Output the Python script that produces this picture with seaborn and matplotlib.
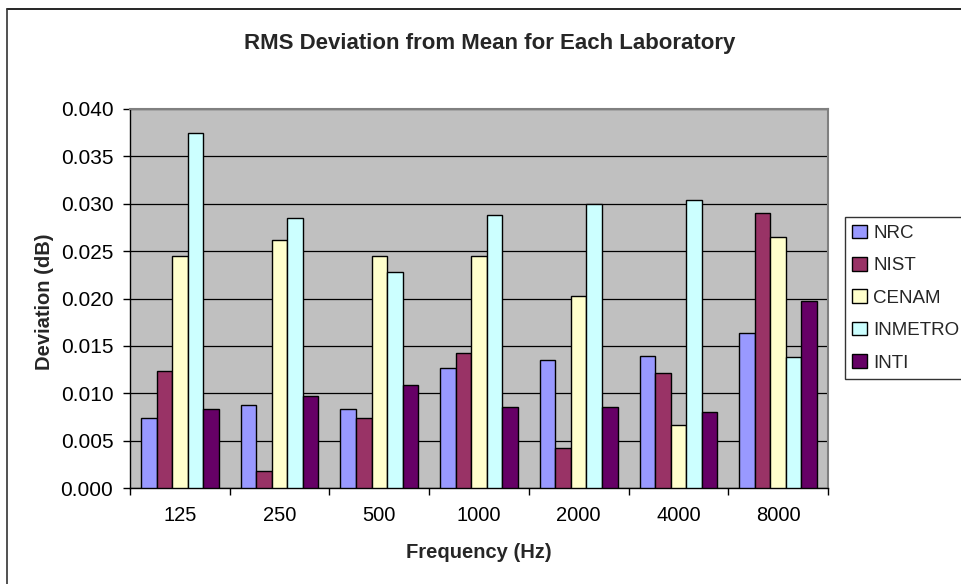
import matplotlib
matplotlib.use("Agg")
import matplotlib.pyplot as plt
import matplotlib.patches as mpatches
from matplotlib.lines import Line2D
from matplotlib.ticker import MultipleLocator, FixedLocator, FormatStrFormatter
import seaborn as sns
import pandas as pd

frequencies = ["125", "250", "500", "1000", "2000", "4000", "8000"]
labs = ["NRC", "NIST", "CENAM", "INMETRO", "INTI"]
nrc = [0.0074, 0.0088, 0.0083, 0.0127, 0.0135, 0.0139, 0.0164]
nist = [0.0124, 0.0018, 0.0074, 0.0142, 0.0042, 0.0121, 0.0290]
cenam = [0.0245, 0.0262, 0.0245, 0.0245, 0.0203, 0.0066, 0.0265]
inmetro = [0.0375, 0.0285, 0.0228, 0.0288, 0.0300, 0.0304, 0.0138]
inti = [0.0083, 0.0097, 0.0109, 0.0085, 0.0086, 0.0080, 0.0197]
colors = ["#9999FF", "#993366", "#FFFFCC", "#CCFFFF", "#660066"]

series = {"NRC": nrc, "NIST": nist, "CENAM": cenam, "INMETRO": inmetro, "INTI": inti}
rows = []
for lab in labs:
    for f, v in zip(frequencies, series[lab]):
        rows.append({"Frequency": f, "Lab": lab, "Deviation": v})
df = pd.DataFrame(rows)

sns.set_theme(style="white")
plt.rcParams["font.family"] = ["Liberation Sans", "DejaVu Sans"]

W, H = 962, 584
fig = plt.figure(figsize=(W / 100, H / 100), dpi=100)
ax = fig.add_axes([130 / W, 1 - 488 / H, (828 - 130) / W, (488 - 109) / H])
ax.set_facecolor("#C0C0C0")

sns.barplot(data=df, x="Frequency", y="Deviation", hue="Lab", order=frequencies,
            hue_order=labs, palette=colors, width=0.78, gap=0,
            edgecolor="black", linewidth=1.0, saturation=1, ax=ax, legend=False,
            zorder=3)

ax.set_ylim(0, 0.040)
ax.set_xlim(-0.5, len(frequencies) - 0.5)
ax.yaxis.set_major_locator(MultipleLocator(0.005))
ax.yaxis.set_major_formatter(FormatStrFormatter("%.3f"))
ax.grid(axis="y", color="black", linewidth=0.9, zorder=1)
ax.set_axisbelow(True)

# category separators as tick marks below the axis
ax.xaxis.set_minor_locator(FixedLocator([i - 0.5 for i in range(len(frequencies) + 1)]))
ax.tick_params(axis="x", which="major", length=0, pad=13, labelsize=14.5, colors="black")
ax.tick_params(axis="x", which="minor", length=5, width=1, direction="out", color="black", bottom=True)
ax.tick_params(axis="y", which="major", length=5, width=1, direction="out", left=True,
               labelsize=15, colors="black", pad=7)

for side in ["left", "bottom"]:
    ax.spines[side].set_color("black")
    ax.spines[side].set_linewidth(1.0)
for side in ["top", "right"]:
    ax.spines[side].set_color("#808080")
    ax.spines[side].set_linewidth(1.5)

ax.set_xlabel("")
ax.set_ylabel("")
fig.text(479 / W, 1 - 552 / H, "Frequency (Hz)", ha="center", va="center",
         fontsize=14.5, fontweight="bold")
fig.text(45 / W, 1 - 302 / H, "Deviation (dB)", ha="center", va="center",
         rotation=90, fontsize=14.5, fontweight="bold")
fig.text(490 / W, 1 - 43 / H, "RMS Deviation from Mean for Each Laboratory",
         ha="center", va="center", fontsize=16, fontweight="bold")

handles = [mpatches.Patch(facecolor=c, edgecolor="black", linewidth=1.0, label=l)
           for c, l in zip(colors, labs)]
leg = fig.legend(handles=handles, loc="upper left",
                 bbox_to_anchor=(845 / W, 1 - 217 / H), frameon=True,
                 fontsize=13.5, handlelength=0.75, handleheight=0.75, handletextpad=0.35,
                 labelspacing=0.8, borderpad=0.4, borderaxespad=0, fancybox=False)
leg.get_frame().set_edgecolor("black")
leg.get_frame().set_linewidth(1.0)

# chart frame: top and left edges
fig.add_artist(Line2D([7.5 / W, 1.0], [1 - 9 / H, 1 - 9 / H], transform=fig.transFigure,
                      color="black", linewidth=1.2))
fig.add_artist(Line2D([7.5 / W, 7.5 / W], [0.0, 1 - 9 / H], transform=fig.transFigure,
                      color="#333333", linewidth=1.2))

fig.savefig("out.png", dpi=100)
